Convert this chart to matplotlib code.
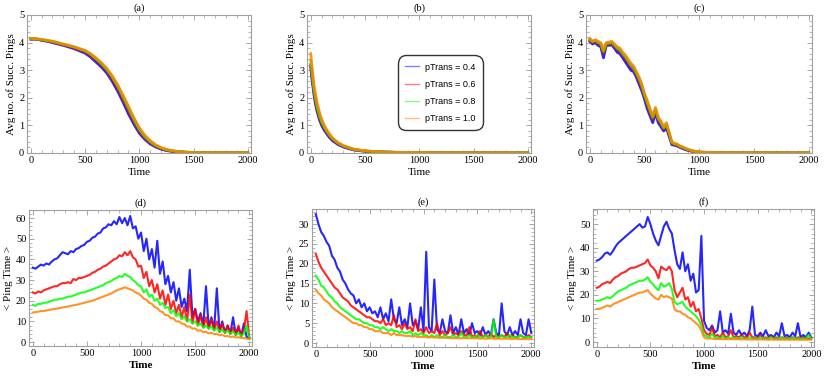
import numpy as np
import matplotlib
matplotlib.use('Agg')
from matplotlib import pyplot as plt
from matplotlib.lines import Line2D
from matplotlib.ticker import MultipleLocator

plt.rcParams['font.family'] = ['Liberation Serif', 'DejaVu Serif']
plt.rcParams['font.size'] = 7.5

labels = ['pTrans = 0.4', 'pTrans = 0.6', 'pTrans = 0.8', 'pTrans = 1.0']
colors = ['#0000ff', '#ff0000', '#00ff00', '#ff8000']

# ---- (a) avg no. of successful pings, sampled every 50 steps
t_a = np.arange(0, 2001, 50)
blue_a = [4.12, 4.13, 4.08, 4.05, 4.0, 3.95, 3.9, 3.84, 3.78, 3.7, 3.62, 3.48, 3.3, 3.12, 2.9, 2.6,
          2.25, 1.85, 1.42, 1.05, 0.72, 0.5, 0.33, 0.22, 0.14, 0.09, 0.06, 0.04, 0.03, 0.02, 0.015,
          0.01, 0.01, 0.008, 0.006, 0.005, 0.005, 0.004, 0.004, 0.003, 0.003]
red_a = [4.15, 4.12, 4.1, 4.06, 4.02, 3.97, 3.92, 3.87, 3.81, 3.74, 3.67, 3.54, 3.38, 3.2, 2.98, 2.7,
         2.36, 1.96, 1.55, 1.15, 0.8, 0.55, 0.37, 0.25, 0.16, 0.1, 0.07, 0.05, 0.03, 0.02, 0.015,
         0.01, 0.01, 0.008, 0.006, 0.005, 0.005, 0.004, 0.004, 0.003, 0.003]
green_a = [4.16, 4.14, 4.1, 4.08, 4.04, 3.99, 3.94, 3.89, 3.84, 3.77, 3.7, 3.58, 3.42, 3.24, 3.03, 2.76,
           2.43, 2.04, 1.63, 1.22, 0.86, 0.6, 0.41, 0.27, 0.18, 0.12, 0.08, 0.05, 0.04, 0.03, 0.02,
           0.015, 0.01, 0.01, 0.008, 0.006, 0.005, 0.005, 0.004, 0.004, 0.003]
orange_a = [4.15, 4.14, 4.12, 4.08, 4.05, 4.0, 3.95, 3.9, 3.85, 3.78, 3.72, 3.6, 3.45, 3.28, 3.07, 2.8,
            2.48, 2.1, 1.7, 1.28, 0.92, 0.65, 0.45, 0.3, 0.2, 0.13, 0.09, 0.06, 0.04, 0.03, 0.02,
            0.015, 0.01, 0.01, 0.008, 0.006, 0.005, 0.005, 0.004, 0.004, 0.003]

# ---- (b)
t_b = [0, 10, 20, 30, 40, 50, 60, 80, 100, 125, 150, 175, 200, 250, 300, 350, 400, 500, 600, 700,
       800, 1000, 1200, 1500, 2000]
blue_b = [3.1, 2.7, 2.4, 2.1, 1.85, 1.65, 1.48, 1.2, 1.0, 0.82, 0.68, 0.55, 0.45, 0.31, 0.22, 0.16,
          0.11, 0.06, 0.04, 0.03, 0.02, 0.012, 0.008, 0.005, 0.003]
red_b = [3.2, 2.85, 2.5, 2.2, 1.95, 1.75, 1.57, 1.28, 1.07, 0.88, 0.73, 0.6, 0.49, 0.34, 0.24, 0.17,
         0.12, 0.07, 0.045, 0.03, 0.022, 0.013, 0.009, 0.005, 0.003]
green_b = [3.35, 2.95, 2.6, 2.3, 2.05, 1.85, 1.65, 1.36, 1.13, 0.93, 0.77, 0.63, 0.52, 0.36, 0.26, 0.19,
           0.13, 0.075, 0.048, 0.033, 0.024, 0.014, 0.009, 0.006, 0.004]
orange_b = [3.6, 3.15, 2.8, 2.45, 2.2, 2.0, 1.8, 1.48, 1.22, 1.0, 0.82, 0.68, 0.55, 0.38, 0.27, 0.2,
            0.14, 0.08, 0.05, 0.035, 0.025, 0.015, 0.01, 0.006, 0.004]

# ---- (c)
t_c = np.concatenate([np.arange(0, 1001, 25), np.arange(1100, 2001, 100)])
blue_c = [4.05, 3.95, 4.0, 3.9, 3.85, 3.45, 3.9, 3.9, 3.92, 3.8,
          3.65, 3.6, 3.45, 3.3, 3.15, 3.0, 2.95, 2.75, 2.5, 2.25,
          1.95, 1.6, 1.35, 1.1, 1.45, 1.1, 0.95, 0.8, 0.9, 0.6,
          0.3, 0.28, 0.25, 0.2, 0.16, 0.12, 0.09, 0.07, 0.05, 0.035,
          0.025,
          0.012, 0.006, 0.004, 0.003, 0.002, 0.002, 0.001, 0.001, 0.001, 0.001]
red_c = [4.1, 4.0, 4.05, 3.97, 3.92, 3.6, 3.95, 3.95, 3.97, 3.87,
         3.75, 3.7, 3.55, 3.42, 3.27, 3.12, 3.05, 2.85, 2.62, 2.37,
         2.05, 1.75, 1.47, 1.22, 1.55, 1.2, 1.05, 0.87, 1.0, 0.67,
         0.35, 0.31, 0.28, 0.22, 0.19, 0.14, 0.11, 0.08, 0.06, 0.04,
         0.03,
         0.015, 0.008, 0.005, 0.004, 0.003, 0.003, 0.002, 0.002, 0.001, 0.001]
green_c = [4.12, 4.03, 4.08, 4.01, 3.96, 3.68, 3.97, 3.98, 4.01, 3.91,
           3.8, 3.75, 3.6, 3.49, 3.34, 3.19, 3.1, 2.9, 2.69, 2.44,
           2.1, 1.83, 1.54, 1.29, 1.6, 1.25, 1.1, 0.91, 1.05, 0.71,
           0.38, 0.33, 0.3, 0.24, 0.2, 0.16, 0.12, 0.09, 0.065, 0.045,
           0.035,
           0.018, 0.009, 0.006, 0.005, 0.004, 0.003, 0.003, 0.002, 0.002, 0.001]
orange_c = [4.15, 4.05, 4.1, 4.05, 4.0, 3.75, 4.0, 4.02, 4.05, 3.95,
            3.85, 3.8, 3.65, 3.55, 3.4, 3.25, 3.15, 2.95, 2.75, 2.5,
            2.15, 1.9, 1.6, 1.35, 1.65, 1.3, 1.15, 0.95, 1.1, 0.75,
            0.4, 0.35, 0.32, 0.25, 0.22, 0.17, 0.13, 0.1, 0.07, 0.05,
            0.04,
            0.02, 0.01, 0.008, 0.006, 0.005, 0.004, 0.003, 0.003, 0.002, 0.002]

# ---- bottom row: mean ping time, sampled every 25 steps
t_bot = np.arange(0, 2001, 25)

blue_d = [36, 35.5, 36.5, 37.5, 37, 38, 37.5, 39, 40, 40.5,
          42, 43.5, 43, 42.5, 44, 43.5, 45, 45.5, 46.5, 47,
          48.5, 49, 50.5, 51, 52.5, 53, 55, 55.5, 57, 56.5,
          58.5, 57, 60.5, 57.5, 60, 56.5, 61, 55, 56, 50,
          53, 44, 50, 40, 45, 36, 49, 33, 39, 28,
          32, 24, 29, 20, 26, 17, 21, 15, 35, 12,
          16, 10, 14, 8, 27, 7, 12, 6, 26, 5,
          10, 4.5, 8, 4, 12, 3.5, 7, 3, 9, 2.5,
          2]
red_d = [24, 23.5, 24.5, 24, 25, 25.5, 26, 26.5, 27, 27,
         28, 28.5, 28.5, 29, 28.5, 30.5, 30, 31, 31, 31.5,
         32, 32.5, 33.5, 34, 35, 35.5, 36.5, 37, 38, 39,
         40, 40.5, 42, 41.5, 43.5, 42, 44, 41, 40, 36.5,
         37, 31, 34, 27, 30, 24, 28, 21, 25, 18,
         23, 16, 20, 14, 18, 12, 17, 10, 23, 9,
         16, 8, 13, 7, 12, 6.5, 11, 6, 10, 5,
         9, 4.5, 8, 4, 7, 3.5, 8, 3, 6, 15,
         2]
green_d = [18, 17.5, 18.5, 18.5, 19, 19, 19.5, 20, 20.5, 20.5,
           21, 21, 21.5, 22, 22, 22.5, 23, 23.5, 24, 24,
           24.5, 25, 25.5, 26, 26.5, 27, 27.5, 28.5, 29, 29.5,
           30.5, 31, 32, 31.5, 33, 32, 31.5, 30, 29, 27.5,
           27, 24, 25.5, 22, 23, 20, 21, 18, 19, 16.5,
           17, 14, 15.5, 12.5, 14, 11, 12.5, 10, 11, 9,
           10, 8, 9, 7, 8, 6.5, 7.5, 5.5, 7, 5,
           6, 4.5, 5.5, 4, 5, 3.5, 4.5, 3, 4, 8,
           2]
orange_d = [14.3, 14.5, 14.7, 15, 15, 15.3, 15.5, 15.8, 16, 16.2,
            16.5, 16.7, 17, 17.2, 17.5, 17.8, 18, 18.3, 18.7, 19,
            19.3, 19.7, 20, 20.5, 21, 21.5, 22, 22.5, 23, 23.5,
            24.3, 25, 25.5, 26, 26.5, 26, 25.5, 25, 24, 23.5,
            22.5, 21, 20.5, 19, 18.5, 17, 16.5, 15, 14.5, 13,
            13, 11.5, 11.5, 10, 10, 9, 8.7, 7.5, 7.5, 6.5,
            6.6, 5.5, 5.7, 4.8, 5, 4.2, 4.5, 3.8, 4, 3.3,
            3.5, 2.8, 3, 2.5, 2.7, 2.2, 2.4, 2, 2, 1.7,
            1.3]

blue_e = [32.5, 30, 28, 27, 25.5, 24.5, 22, 21, 19, 18,
          16, 15, 13.5, 12.5, 12, 10, 11, 9, 10, 8,
          9, 7.5, 8, 6.5, 9, 6, 7.5, 5.5, 11, 6,
          5, 9, 4.5, 6, 4, 10, 4.5, 5.5, 3.5, 9,
          3, 23, 4, 3, 16, 3.5, 2.5, 6, 3, 2.5,
          7, 2.5, 4, 2, 6, 2.5, 3.5, 2, 5, 2.5,
          3, 2, 4, 2, 3, 2, 6, 2.5, 2, 10,
          3, 2, 4, 2, 3, 2, 6, 2.5, 2, 6,
          2.5]
red_e = [22.5, 20.5, 19, 18, 17, 16, 15, 14, 13.5, 12.5,
         11.5, 11, 10.5, 9.5, 9, 8.5, 8, 7.5, 7, 6.5,
         6.5, 6, 5.5, 5.5, 5, 6, 4.5, 5, 4.5, 7,
         4, 4.5, 3.5, 5, 3.5, 4, 3, 6, 3, 3.5,
         2.5, 4, 2.5, 3, 2.5, 5, 2, 3, 2, 2.5,
         4, 2, 2.5, 2, 3, 2, 2, 4, 1.5, 2,
         1.5, 3, 1.5, 2, 1.5, 2.5, 1.5, 2, 1.5, 2,
         1.5, 2.5, 1.5, 2, 1.5, 1.5, 2, 1.5, 1.5, 2,
         1.5]
green_e = [17, 16, 14.5, 14, 13, 12, 11.5, 10.5, 10, 9,
           8.5, 8, 7.5, 7, 6.5, 6, 6, 5.5, 5, 5,
           4.5, 4.5, 4, 4, 3.5, 4, 3.5, 3, 3.5, 3,
           3, 2.5, 3, 2.5, 2.5, 3, 2, 2.5, 2, 2.5,
           2, 2, 1.5, 2, 1.5, 2, 1.5, 1.5, 2, 1.5,
           1.5, 2, 1.5, 1.5, 2.5, 1.5, 1.5, 2, 1.5, 1.5,
           2, 1.5, 1.5, 2, 1.5, 1.5, 6, 1.5, 1.5, 2,
           1.5, 1.5, 2, 1.5, 1.5, 1.5, 2, 1.5, 1.5, 1.5,
           1.5]
orange_e = [13.5, 12.5, 12, 11, 10.5, 10, 9, 8.5, 8, 7.5,
            7, 6.5, 6, 5.5, 5, 5, 4.5, 4.5, 4, 4,
            3.5, 3.5, 3, 3, 3, 2.5, 2.5, 2.5, 2, 2.5,
            2, 2, 2, 1.8, 1.8, 1.8, 1.6, 1.8, 1.5, 1.6,
            1.5, 1.5, 1.4, 1.5, 1.4, 1.4, 1.3, 1.4, 1.3, 1.3,
            1.3, 1.2, 1.3, 1.2, 1.2, 1.3, 1.2, 1.2, 1.2, 1.2,
            1.2, 1.1, 1.2, 1.1, 1.1, 1.2, 1.1, 1.1, 1.1, 1.1,
            1.1, 1.1, 1.1, 1.0, 1.1, 1.0, 1.0, 1.0, 1.0, 1.0,
            1.0]

blue_f = [34.5, 35, 36, 37.5, 38, 37, 38.5, 40.5, 42, 43,
          44, 45, 46, 47, 48, 49, 50, 48.5, 49, 53,
          50, 46, 43, 41, 45, 49, 51, 48, 46, 39,
          33, 31, 38, 30, 33, 26, 29, 21, 22, 45,
          9, 6, 5, 7, 4, 5, 13, 4, 5, 3.5,
          12, 4, 3, 5, 3, 4, 2.5, 5, 15, 3,
          2.5, 4, 2.5, 5, 2.5, 3, 2, 4, 2.5, 8,
          2.5, 3, 2, 4, 2.5, 8, 2, 3, 2, 4,
          2]
red_f = [23, 23.5, 24.5, 25, 25.5, 25, 26.5, 27.5, 28, 29,
         29.5, 30, 31, 31.5, 31.5, 32, 32.5, 33, 33.5, 35,
         32.5, 31.5, 30, 27, 32, 31, 30.5, 32, 30, 22,
         19, 21, 23, 18, 19, 15, 17, 13, 14, 10,
         5, 3.5, 3, 6, 2.5, 3, 2, 4, 2, 2.5,
         5, 2, 2.5, 2, 3, 2, 2, 4, 2, 2,
         1.5, 3, 1.5, 2, 1.5, 2.5, 1.5, 2, 1.5, 2,
         1.5, 2, 1.5, 2, 1.5, 2, 1.5, 2, 1.5, 1.5,
         1.5]
green_f = [17.5, 17.5, 18, 18.5, 19, 18.5, 19.5, 20.5, 21.5, 22,
           22.5, 23, 24, 24.5, 25, 25.5, 26, 26, 26.5, 27.5,
           25.5, 24.5, 23, 22, 25, 23.5, 24, 25, 22.5, 17,
           16, 16.5, 17, 15, 14, 13, 12, 11, 9.5, 7,
           3, 2.5, 2, 3.5, 2, 2, 1.5, 2.5, 1.5, 2,
           1.5, 2, 1.5, 1.5, 2, 1.5, 1.5, 2, 1.5, 1.5,
           1.5, 2, 1.5, 1.5, 1.5, 2, 1.5, 1.5, 1.5, 2,
           1.5, 1.5, 1.5, 2, 1.5, 1.5, 1.5, 1.5, 1.5, 3,
           1.5]
orange_f = [14, 14, 14.5, 15, 15.5, 15, 16, 16.5, 17, 17.5,
            18, 18.5, 19, 19.5, 20, 20.5, 21, 21, 21.5, 22,
            20.5, 19.5, 18.5, 18, 20, 19, 19.5, 19, 18.5, 14,
            13, 13, 12, 11.5, 10.5, 10, 9, 8, 7, 5,
            2, 1.5, 1.5, 1.5, 1.3, 1.3, 1.3, 1.2, 1.2, 1.2,
            1.2, 1.2, 1.2, 1.2, 1.1, 1.2, 1.1, 1.1, 1.1, 1.1,
            1.1, 1.1, 1.1, 1.1, 1.0, 1.1, 1.0, 1.0, 1.0, 1.0,
            1.0, 1.0, 1.0, 1.0, 1.0, 1.0, 1.0, 1.0, 1.0, 1.0,
            1.0]

W, H = 830, 376
fig = plt.figure(figsize=(W / 100, H / 100), dpi=100)


def make_ax(l, r, t, b):
    return fig.add_axes([l / W, (H - b) / H, (r - l) / W, (b - t) / H])


def style(ax, title, ylabel, ylim, ymaj, ymin, xlim, bold_x=False):
    ax.set_xlim(*xlim)
    ax.set_ylim(*ylim)
    ax.xaxis.set_major_locator(MultipleLocator(500))
    ax.xaxis.set_minor_locator(MultipleLocator(100))
    ax.yaxis.set_major_locator(MultipleLocator(ymaj))
    ax.yaxis.set_minor_locator(MultipleLocator(ymin))
    ax.tick_params(which='both', direction='in', top=True, right=True, color='#999999',
                   labelsize=7.5, pad=2)
    ax.tick_params(which='major', length=3.5, width=0.6)
    ax.tick_params(which='minor', length=2, width=0.5)
    for s in ax.spines.values():
        s.set_color('#a0a0a0')
        s.set_linewidth(0.8)
    ax.set_title(title, fontsize=7.5, pad=3)
    ax.set_ylabel(ylabel, fontsize=8, labelpad=2)
    ax.set_xlabel('Time', fontsize=8, labelpad=2, fontweight='bold' if bold_x else 'normal')


top = [
    ('(a)', t_a, [blue_a, red_a, green_a, orange_a], (27, 251)),
    ('(b)', t_b, [blue_b, red_b, green_b, orange_b], (307, 531)),
    ('(c)', t_c, [blue_c, red_c, green_c, orange_c], (586, 812)),
]
for title, t, series, (l, r) in top:
    ax = make_ax(l, r, 15, 153)
    for y, c in zip(series, colors):
        ax.plot(t, y, color=c, lw=2.0, alpha=0.85)
    style(ax, title, 'Avg no. of Succ. Pings', (0, 5), 1, 0.2, (-35, 2030))
    if title == '(b)':
        handles = [Line2D([], [], color=c, lw=1, alpha=0.5) for c in colors]
        leg = ax.legend(handles, labels, loc='upper left', bbox_to_anchor=(0.385, 0.74),
                        prop={'family': 'Liberation Sans', 'size': 6.5}, frameon=True,
                        fancybox=True, edgecolor='black', handlelength=1.6,
                        handletextpad=0.6, labelspacing=0.9, borderpad=0.8)
        leg.get_frame().set_linewidth(1.0)
        leg.get_frame().set_boxstyle('round', pad=0, rounding_size=0.9)

bottom = [
    ('(d)', [blue_d, red_d, green_d, orange_d], (29, 252, 210, 346), (-1.9, 63.9), 10, 2),
    ('(e)', [blue_e, red_e, green_e, orange_e], (312, 534, 209, 347), (-1.0, 33.8), 5, 1),
    ('(f)', [blue_f, red_f, green_f, orange_f], (593, 814, 209, 347), (-2.1, 56.4), 10, 2),
]
for title, series, (l, r, t, b), ylim, ymaj, ymin in bottom:
    ax = make_ax(l, r, t, b)
    for y, c in zip(series, colors):
        ax.plot(t_bot, y, color=c, lw=1.5, alpha=0.85)
    style(ax, title, '< Ping Time >', ylim, ymaj, ymin, (-35, 2025), bold_x=True)

fig.savefig('out.png', dpi=100)
